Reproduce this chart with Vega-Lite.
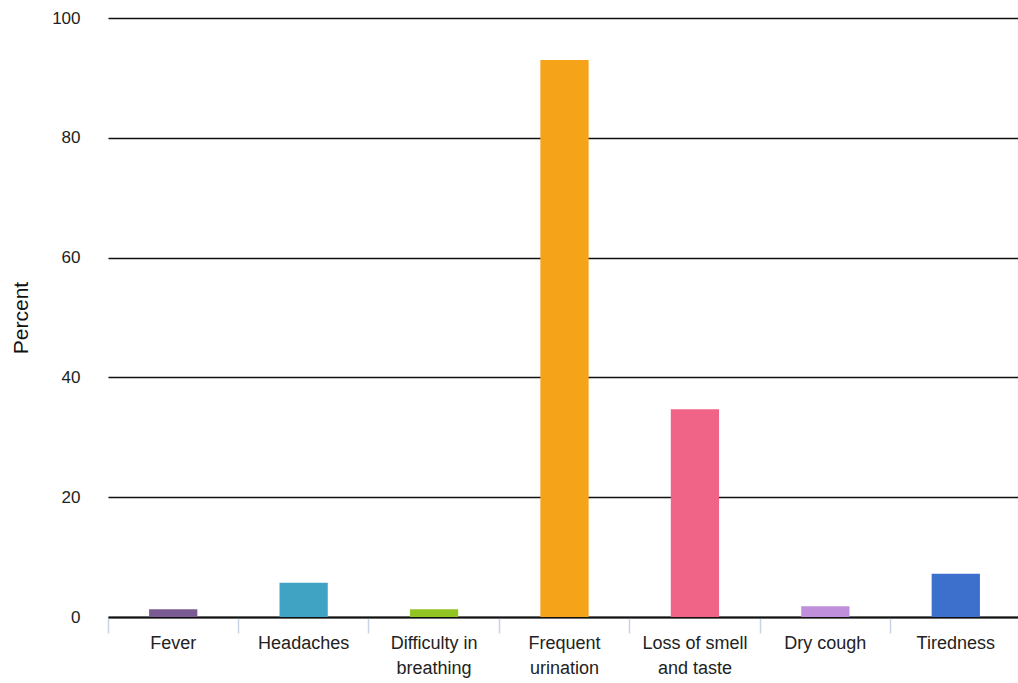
{
  "$schema": "https://vega.github.io/schema/vega-lite/v6.json",
  "width": 913,
  "height": 599,
  "autosize": {"type": "none"},
  "padding": {"left": 108, "top": 18, "right": 0, "bottom": 66},
  "background": "white",
  "config": {"view": {"stroke": null}, "font": "Liberation Sans"},
  "data": {"values": [
    {"symptom": "Fever", "percent": 1.3},
    {"symptom": "Headaches", "percent": 5.7},
    {"symptom": "Difficulty in breathing", "percent": 1.3},
    {"symptom": "Frequent urination", "percent": 93.0},
    {"symptom": "Loss of smell and taste", "percent": 34.7},
    {"symptom": "Dry cough", "percent": 1.8},
    {"symptom": "Tiredness", "percent": 7.2}
  ]},
  "mark": {"type": "bar", "width": {"band": 0.37}},
  "encoding": {
    "x": {
      "field": "symptom", "type": "nominal", "sort": null,
      "scale": {"paddingInner": 0, "paddingOuter": 0},
      "axis": {
        "title": null, "labelAngle": 0, "bandPosition": 0,
        "domainColor": "#111", "domainWidth": 2,
        "tickColor": "#c9d3e6", "tickWidth": 1.5, "tickSize": 16,
        "labelFontSize": 18, "labelColor": "#222", "labelPadding": 1,
        "labelBaseline": "top", "labelLineHeight": 25,
        "labelExpr": "datum.label == 'Difficulty in breathing' ? ['Difficulty in', 'breathing'] : datum.label == 'Frequent urination' ? ['Frequent', 'urination'] : datum.label == 'Loss of smell and taste' ? ['Loss of smell', 'and taste'] : datum.label"
      }
    },
    "y": {
      "field": "percent", "type": "quantitative",
      "scale": {"domain": [0, 100]},
      "axis": {
        "title": "Percent", "titleFontSize": 21, "titleFontWeight": "normal", "titleColor": "#111", "titlePadding": 20,
        "values": [0, 20, 40, 60, 80, 100],
        "domain": false, "ticks": false,
        "gridColor": "#111", "gridWidth": 1.5, "gridOpacity": 1,
        "labelFontSize": 17, "labelColor": "#222", "labelPadding": 28
      }
    },
    "color": {
      "field": "symptom", "type": "nominal", "sort": null, "legend": null,
      "scale": {
        "domain": ["Fever", "Headaches", "Difficulty in breathing", "Frequent urination", "Loss of smell and taste", "Dry cough", "Tiredness"],
        "range": ["#7b5c92", "#41a3c3", "#92c524", "#f5a41a", "#f06487", "#bf8fdb", "#3d6fcc"]
      }
    }
  }
}
